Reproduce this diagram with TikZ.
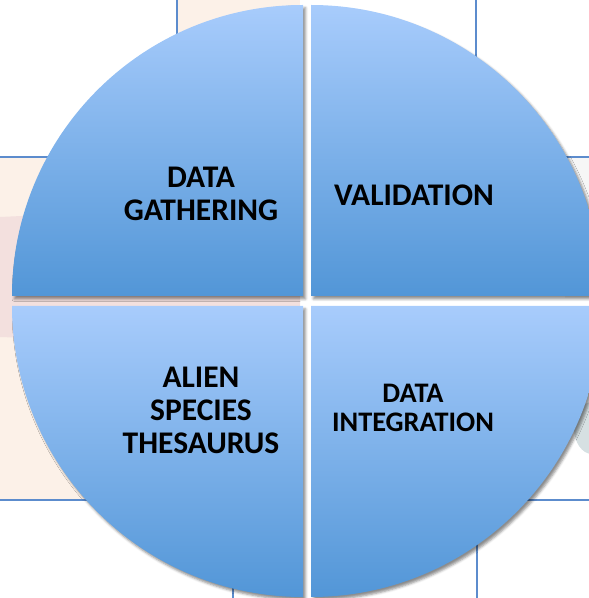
\documentclass[tikz,border=0pt]{standalone}
\usepackage{fontspec}
\setmainfont{Carlito}
\usetikzlibrary{shadows.blur}
\definecolor{skytop}{RGB}{168,204,252}
\definecolor{skybot}{RGB}{82,150,215}
\definecolor{rulecol}{RGB}{92,140,205}
\definecolor{peach}{RGB}{252,241,232}
\definecolor{rose}{RGB}{243,224,222}
\definecolor{haze}{RGB}{214,224,226}
\begin{document}
\begin{tikzpicture}[x=1pt,y=1pt,
  quarter/.style={top color=skytop,bottom color=skybot,draw=none,
    blur shadow={shadow xshift=2.5pt,shadow yshift=-3pt,shadow blur radius=2.5pt,shadow opacity=45}},
  phase/.style={font=\bfseries\fontsize{31.5}{33}\selectfont,align=center,text=black},
  rule/.style={rulecol,line width=1.3pt}]
\useasboundingbox (0,0) rectangle (589,598);
\clip (0,0) rectangle (589,598);
% page behind the wheel
\fill[peach] (0,98) rectangle (300,441);
\fill[peach] (177,441) rectangle (300,598);
\fill[rose] (0,261) -- (0,381) -- (300,395) -- (300,250) -- cycle;
\fill[gray!7] (565,300) rectangle (589,441);
\fill[haze] (592,170) ellipse (18 and 26);
\draw[rule] (177,598) -- (177,540);
\draw[rule] (0,441) -- (80,441);
\draw[rule] (476,598) -- (476,520);
\draw[rule] (540,441) -- (589,441);
\draw[rule] (0,98) -- (110,98);
\draw[rule] (233,0) -- (233,40);
\draw[rule] (500,98) -- (589,98);
\draw[rule] (477,0) -- (477,80);
% four quarters
\path[quarter] (303,302) -- (12,302) arc[start angle=180,end angle=90,radius=291] -- cycle;
\path[quarter] (311,302) -- (311,593) arc[start angle=90,end angle=0,radius=291] -- cycle;
\path[quarter] (303,292) -- (12,292) arc[start angle=180,end angle=270,radius=291] -- cycle;
\path[quarter] (311,292) -- (311,1) arc[start angle=270,end angle=360,radius=291] -- cycle;
% labels
\node[phase] (gather) at (201,404) {DATA\\GATHERING};
\node[phase] (valid) at (414,403) {VALIDATION};
\node[phase] (alien) at (201,188) {ALIEN\\SPECIES\\THESAURUS};
\node[phase,font=\bfseries\fontsize{28.3}{28.5}\selectfont] (integ) at (413,190) {DATA\\INTEGRATION};
\end{tikzpicture}
\end{document}
